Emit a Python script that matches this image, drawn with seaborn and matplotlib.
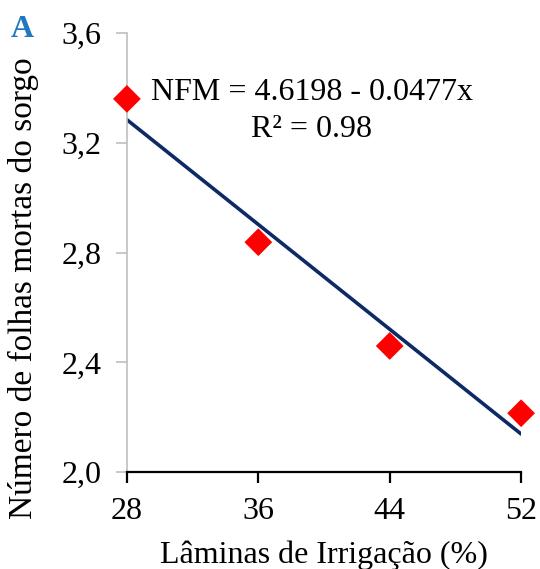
import numpy as np
import pandas as pd
import matplotlib
matplotlib.use("Agg")
import matplotlib.pyplot as plt
import seaborn as sns

laminas = [28, 36, 44, 52]
nfm = [3.36, 2.838, 2.46, 2.215]
intercept = 4.6198
slope = -0.0477
x_ticks = [28, 36, 44, 52]
y_ticks = [2.0, 2.4, 2.8, 3.2, 3.6]
y_tick_labels = ["2,0", "2,4", "2,8", "3,2", "3,6"]

sns.set_theme(style="white")
plt.rcParams['font.family'] = ['Liberation Serif', 'DejaVu Serif']
plt.rcParams['text.color'] = 'black'
plt.rcParams['axes.labelcolor'] = 'black'
plt.rcParams['xtick.labelcolor'] = 'black'
plt.rcParams['ytick.labelcolor'] = 'black'

FS = 23

df = pd.DataFrame({"x": laminas, "y": nfm})
xfit = np.array([laminas[0], laminas[-1]], dtype=float)
fit = pd.DataFrame({"x": xfit, "y": intercept + slope * xfit})

fig = plt.figure(figsize=(5.4, 5.69), dpi=100)
ax = fig.add_axes([0.235, 0.170, 0.730, 0.772])

sns.lineplot(data=fit, x="x", y="y", ax=ax, color="#0d2a66", linewidth=2.6, zorder=2)
sns.scatterplot(data=df, x="x", y="y", ax=ax, marker="D", s=200, color="#ff0000",
                edgecolor="none", zorder=3, clip_on=False)

ax.set_xlim(28, 52)
ax.set_ylim(2.0, 3.6)
ax.set_xticks(x_ticks)
ax.set_xticklabels([str(v) for v in x_ticks], fontsize=FS, color="black")
ax.set_yticks(y_ticks)
ax.set_yticklabels(y_tick_labels, fontsize=FS, color="black")

for s in ["top", "right"]:
    ax.spines[s].set_visible(False)
ax.spines["left"].set_color("#bfbfbf")
ax.spines["left"].set_linewidth(1.2)
ax.spines["bottom"].set_color("black")
ax.spines["bottom"].set_linewidth(1.6)
ax.tick_params(axis="y", which="major", length=8, width=1.2, color="#bfbfbf", left=True, pad=10)
ax.tick_params(axis="x", which="major", length=8, width=1.6, color="black", bottom=True, direction="out", pad=10)

ax.set_xlabel("Lâminas de Irrigação (%)", fontsize=FS, labelpad=10, color="black")
ax.set_ylabel("Número de folhas mortas do sorgo", fontsize=24, color="black")
ax.yaxis.set_label_coords(-0.222, 0.419)

fig.text(0.578, 0.837, "NFM = 4.6198 - 0.0477x", ha="center", va="center", fontsize=FS, color="black")
fig.text(0.576, 0.772, "R² = 0.98", ha="center", va="center", fontsize=FS, color="black")
fig.text(0.041, 0.948, "A", fontsize=FS, fontweight="bold", color="#1f78c1",
         ha="center", va="center")

fig.savefig("out.png", dpi=100)
